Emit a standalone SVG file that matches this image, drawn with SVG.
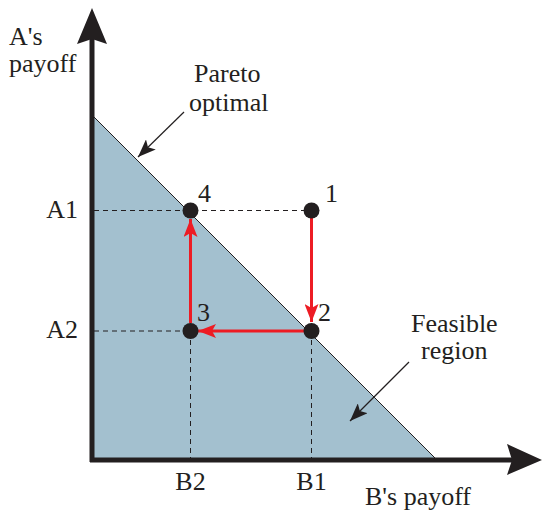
<svg xmlns="http://www.w3.org/2000/svg" width="543" height="515" viewBox="0 0 543 515">
<defs>
<style>
text{font-family:"Liberation Serif","Times New Roman",Times,serif;font-size:26px;fill:#231f20}
.dash{stroke:#231f20;stroke-width:1;stroke-dasharray:5,4;fill:none}
.red{stroke:#ed1c24;stroke-width:3;fill:none;marker-end:url(#ra)}
.lead{stroke:#231f20;stroke-width:1.2;fill:none;marker-end:url(#ba)}
.dot{fill:#231f20}
</style>
<marker id="ra" markerUnits="userSpaceOnUse" markerWidth="20" markerHeight="14" refX="18" refY="7" orient="auto" viewBox="0 0 20 14">
<path d="M0,0 L18,7 L0,14 L4,7 Z" fill="#ed1c24"/>
</marker>
<marker id="ba" markerUnits="userSpaceOnUse" markerWidth="20" markerHeight="14" refX="18" refY="7" orient="auto" viewBox="0 0 20 14">
<path d="M0,0 L18,7 L0,14 L4,7 Z" fill="#231f20"/>
</marker>
</defs>
<rect width="543" height="515" fill="#fff"/>
<g id="feasible-region">
<polygon points="92,115 92,460 437,460" fill="#a3c0cf" stroke="#231f20" stroke-width="1"/>
</g>
<g id="guides">
<line class="dash" x1="94" y1="210.5" x2="311" y2="210.5"/>
<line class="dash" x1="94" y1="331" x2="190" y2="331"/>
<line class="dash" x1="190.5" y1="331" x2="190.5" y2="458"/>
<line class="dash" x1="311.5" y1="331" x2="311.5" y2="458"/>
</g>
<g id="axes">
<line x1="92" y1="462" x2="92" y2="38" stroke="#231f20" stroke-width="5"/>
<path d="M92,8 L107,44 L92,39 L77,44 Z" fill="#231f20"/>
<line x1="90" y1="460" x2="512" y2="460" stroke="#231f20" stroke-width="5"/>
<path d="M542,460 L507,475 L512,460 L507,444 Z" fill="#231f20"/>
</g>
<g id="connectors">
<line class="red" x1="311.5" y1="218" x2="311.5" y2="322"/>
<line class="red" x1="304" y1="331" x2="198" y2="331"/>
<line class="red" x1="190.5" y1="323" x2="190.5" y2="219"/>
<line class="lead" x1="184" y1="112" x2="138" y2="157"/>
<line class="lead" x1="409" y1="362" x2="350" y2="421"/>
</g>
<g id="point-1"><circle class="dot" cx="311.5" cy="210.5" r="8"/><text x="325" y="202">1</text></g>
<g id="point-2"><circle class="dot" cx="311.5" cy="331" r="8"/><text x="318" y="321">2</text></g>
<g id="point-3"><circle class="dot" cx="190.5" cy="331" r="8"/><text x="197" y="321">3</text></g>
<g id="point-4"><circle class="dot" cx="190.5" cy="210.5" r="8"/><text x="198" y="202">4</text></g>
<g id="labels">
<text x="9" y="45">A's</text>
<text x="9" y="72">payoff</text>
<text x="194" y="82">Pareto</text>
<text x="189" y="111">optimal</text>
<text x="411" y="332">Feasible</text>
<text x="421" y="359">region</text>
<text x="78" y="218" text-anchor="end">A1</text>
<text x="78" y="338" text-anchor="end">A2</text>
<text x="190.5" y="490" text-anchor="middle">B2</text>
<text x="311.5" y="490" text-anchor="middle">B1</text>
<text x="365" y="505">B's payoff</text>
</g>
</svg>
